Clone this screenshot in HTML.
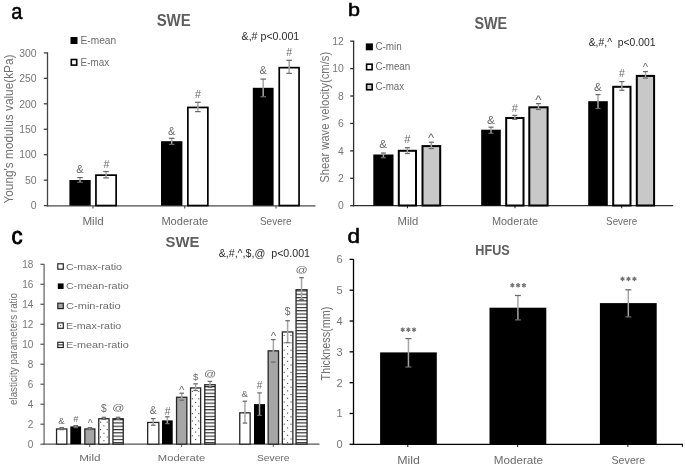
<!DOCTYPE html>
<html><head><meta charset="utf-8"><style>
html,body{margin:0;padding:0;background:#fff;}
body{width:685px;height:465px;overflow:hidden;}
svg{display:block;filter:blur(0.5px);}
text{font-family:"Liberation Sans", sans-serif;}
</style></head><body>
<svg width="685" height="465" viewBox="0 0 685 465" font-family='"Liberation Sans", sans-serif'>
<defs>
<pattern id="stripes" patternUnits="userSpaceOnUse" width="10" height="3.3" x="0" y="0">
<rect width="10" height="3.3" fill="#fff"/>
<rect y="0" width="10" height="1.1" fill="#262626"/>
</pattern>
</defs>
<rect width="685" height="465" fill="#fff"/>
<text x="11.35" y="18.68" font-size="22.82" fill="#000" text-anchor="start" textLength="11.15" lengthAdjust="spacingAndGlyphs" stroke="#000" stroke-width="0.55">a</text>
<text x="156.64" y="25.60" font-size="16" fill="#5e5e5e" font-weight="bold" text-anchor="start" textLength="34.12" lengthAdjust="spacingAndGlyphs">SWE</text>
<text x="241.57" y="40.30" font-size="10.5" fill="#2a2a2a" text-anchor="start" textLength="57.66" lengthAdjust="spacingAndGlyphs">&amp;,# p&lt;0.001</text>
<rect x="70.50" y="37.00" width="7.00" height="7.00" fill="#000"/>
<rect x="71.30" y="59.50" width="5.40" height="5.60" fill="#fff" stroke="#000" stroke-width="1.6"/>
<text x="80.60" y="43.60" font-size="10.0" fill="#6b6b6b" text-anchor="start" textLength="35.50" lengthAdjust="spacingAndGlyphs">E-mean</text>
<text x="80.60" y="65.60" font-size="10.0" fill="#6b6b6b" text-anchor="start" textLength="28.50" lengthAdjust="spacingAndGlyphs">E-max</text>
<line x1="47.50" y1="52.30" x2="47.50" y2="206.40" stroke="#454545" stroke-width="1.3"/>
<line x1="46.90" y1="205.80" x2="315.50" y2="205.80" stroke="#4a4a4a" stroke-width="1.3"/>
<line x1="43.80" y1="205.60" x2="47.50" y2="205.60" stroke="#404040" stroke-width="1.3"/>
<text x="36.62" y="209.30" font-size="10.4" fill="#767676" text-anchor="end">0</text>
<line x1="43.80" y1="180.15" x2="47.50" y2="180.15" stroke="#404040" stroke-width="1.3"/>
<text x="36.62" y="183.85" font-size="10.4" fill="#767676" text-anchor="end">50</text>
<line x1="43.80" y1="154.70" x2="47.50" y2="154.70" stroke="#404040" stroke-width="1.3"/>
<text x="36.62" y="158.40" font-size="10.4" fill="#767676" text-anchor="end">100</text>
<line x1="43.80" y1="129.25" x2="47.50" y2="129.25" stroke="#404040" stroke-width="1.3"/>
<text x="36.62" y="132.95" font-size="10.4" fill="#767676" text-anchor="end">150</text>
<line x1="43.80" y1="103.80" x2="47.50" y2="103.80" stroke="#404040" stroke-width="1.3"/>
<text x="36.62" y="107.50" font-size="10.4" fill="#767676" text-anchor="end">200</text>
<line x1="43.80" y1="78.35" x2="47.50" y2="78.35" stroke="#404040" stroke-width="1.3"/>
<text x="36.62" y="82.05" font-size="10.4" fill="#767676" text-anchor="end">250</text>
<line x1="43.80" y1="52.90" x2="47.50" y2="52.90" stroke="#404040" stroke-width="1.3"/>
<text x="36.62" y="56.60" font-size="10.4" fill="#767676" text-anchor="end">300</text>
<line x1="93.00" y1="205.80" x2="93.00" y2="208.40" stroke="#4a4a4a" stroke-width="1.1"/>
<line x1="184.70" y1="205.80" x2="184.70" y2="208.40" stroke="#4a4a4a" stroke-width="1.1"/>
<line x1="276.00" y1="205.80" x2="276.00" y2="208.40" stroke="#4a4a4a" stroke-width="1.1"/>
<text x="93.10" y="225.00" font-size="10.5" fill="#6b6b6b" text-anchor="middle" textLength="21.25" lengthAdjust="spacingAndGlyphs">Mild</text>
<text x="184.80" y="225.00" font-size="10.5" fill="#6b6b6b" text-anchor="middle" textLength="46.85" lengthAdjust="spacingAndGlyphs">Moderate</text>
<text x="275.80" y="225.00" font-size="10.5" fill="#6b6b6b" text-anchor="middle" textLength="31.85" lengthAdjust="spacingAndGlyphs">Severe</text>
<text transform="translate(12.60,129.00) rotate(-90)" x="0" y="0" font-size="13.5" fill="#727272" text-anchor="middle" textLength="149.00" lengthAdjust="spacingAndGlyphs">Young's modulus value(kPa)</text>
<rect x="69.40" y="180.00" width="21.30" height="25.60" fill="#000"/>
<line x1="80.05" y1="177.60" x2="80.05" y2="182.30" stroke="#a6a6a6" stroke-width="1.5"/>
<line x1="77.25" y1="177.60" x2="82.85" y2="177.60" stroke="#6a6a6a" stroke-width="1.25"/>
<line x1="77.25" y1="182.30" x2="82.85" y2="182.30" stroke="#6a6a6a" stroke-width="1.25"/>
<rect x="95.95" y="175.15" width="20.20" height="30.40" fill="#fff" stroke="#000" stroke-width="1.7"/>
<line x1="106.05" y1="171.50" x2="106.05" y2="177.90" stroke="#a6a6a6" stroke-width="1.5"/>
<line x1="103.25" y1="171.50" x2="108.85" y2="171.50" stroke="#6a6a6a" stroke-width="1.25"/>
<line x1="103.25" y1="177.90" x2="108.85" y2="177.90" stroke="#6a6a6a" stroke-width="1.25"/>
<rect x="161.00" y="141.20" width="21.40" height="64.40" fill="#000"/>
<line x1="171.70" y1="138.30" x2="171.70" y2="144.40" stroke="#a6a6a6" stroke-width="1.5"/>
<line x1="168.90" y1="138.30" x2="174.50" y2="138.30" stroke="#6a6a6a" stroke-width="1.25"/>
<line x1="168.90" y1="144.40" x2="174.50" y2="144.40" stroke="#6a6a6a" stroke-width="1.25"/>
<rect x="187.85" y="107.45" width="20.00" height="98.10" fill="#fff" stroke="#000" stroke-width="1.7"/>
<line x1="197.85" y1="102.30" x2="197.85" y2="111.60" stroke="#a6a6a6" stroke-width="1.5"/>
<line x1="195.05" y1="102.30" x2="200.65" y2="102.30" stroke="#6a6a6a" stroke-width="1.25"/>
<line x1="195.05" y1="111.60" x2="200.65" y2="111.60" stroke="#6a6a6a" stroke-width="1.25"/>
<rect x="252.80" y="87.80" width="20.80" height="117.80" fill="#000"/>
<line x1="263.20" y1="79.10" x2="263.20" y2="96.70" stroke="#a6a6a6" stroke-width="1.5"/>
<line x1="260.40" y1="79.10" x2="266.00" y2="79.10" stroke="#6a6a6a" stroke-width="1.25"/>
<line x1="260.40" y1="96.70" x2="266.00" y2="96.70" stroke="#6a6a6a" stroke-width="1.25"/>
<rect x="279.25" y="67.65" width="19.80" height="137.90" fill="#fff" stroke="#000" stroke-width="1.7"/>
<line x1="289.15" y1="60.30" x2="289.15" y2="73.40" stroke="#a6a6a6" stroke-width="1.5"/>
<line x1="286.35" y1="60.30" x2="291.95" y2="60.30" stroke="#6a6a6a" stroke-width="1.25"/>
<line x1="286.35" y1="73.40" x2="291.95" y2="73.40" stroke="#6a6a6a" stroke-width="1.25"/>
<text x="348.01" y="16.01" font-size="19.06" fill="#000" text-anchor="start" textLength="12.00" lengthAdjust="spacingAndGlyphs" stroke="#000" stroke-width="0.55">b</text>
<text x="474.44" y="28.70" font-size="16" fill="#5e5e5e" font-weight="bold" text-anchor="start" textLength="32.72" lengthAdjust="spacingAndGlyphs">SWE</text>
<text x="588.67" y="46.10" font-size="10.5" fill="#2a2a2a" text-anchor="start" textLength="66.96" lengthAdjust="spacingAndGlyphs">&amp;,#,^  p&lt;0.001</text>
<rect x="365.80" y="43.40" width="7.10" height="6.90" fill="#000"/>
<rect x="366.60" y="64.20" width="5.50" height="5.50" fill="#fff" stroke="#000" stroke-width="1.6"/>
<rect x="366.60" y="84.20" width="5.50" height="5.60" fill="#c8c8c8" stroke="#000" stroke-width="1.6"/>
<text x="375.40" y="49.70" font-size="10.0" fill="#6b6b6b" text-anchor="start" textLength="26.40" lengthAdjust="spacingAndGlyphs">C-min</text>
<text x="375.40" y="70.00" font-size="10.0" fill="#6b6b6b" text-anchor="start" textLength="34.90" lengthAdjust="spacingAndGlyphs">C-mean</text>
<text x="375.40" y="90.10" font-size="10.0" fill="#6b6b6b" text-anchor="start" textLength="28.80" lengthAdjust="spacingAndGlyphs">C-max</text>
<line x1="353.60" y1="40.60" x2="353.60" y2="206.30" stroke="#2e2e2e" stroke-width="1.3"/>
<line x1="353.00" y1="205.70" x2="673.20" y2="205.70" stroke="#2e2e2e" stroke-width="1.3"/>
<line x1="350.20" y1="205.70" x2="353.60" y2="205.70" stroke="#2e2e2e" stroke-width="1.3"/>
<text x="343.72" y="209.40" font-size="10.4" fill="#767676" text-anchor="end">0</text>
<line x1="350.20" y1="178.28" x2="353.60" y2="178.28" stroke="#2e2e2e" stroke-width="1.3"/>
<text x="343.72" y="181.98" font-size="10.4" fill="#767676" text-anchor="end">2</text>
<line x1="350.20" y1="150.86" x2="353.60" y2="150.86" stroke="#2e2e2e" stroke-width="1.3"/>
<text x="343.72" y="154.56" font-size="10.4" fill="#767676" text-anchor="end">4</text>
<line x1="350.20" y1="123.44" x2="353.60" y2="123.44" stroke="#2e2e2e" stroke-width="1.3"/>
<text x="343.72" y="127.14" font-size="10.4" fill="#767676" text-anchor="end">6</text>
<line x1="350.20" y1="96.02" x2="353.60" y2="96.02" stroke="#2e2e2e" stroke-width="1.3"/>
<text x="343.72" y="99.72" font-size="10.4" fill="#767676" text-anchor="end">8</text>
<line x1="350.20" y1="68.60" x2="353.60" y2="68.60" stroke="#2e2e2e" stroke-width="1.3"/>
<text x="343.72" y="72.30" font-size="10.4" fill="#767676" text-anchor="end">10</text>
<line x1="350.20" y1="41.18" x2="353.60" y2="41.18" stroke="#2e2e2e" stroke-width="1.3"/>
<text x="343.72" y="44.88" font-size="10.4" fill="#767676" text-anchor="end">12</text>
<line x1="407.40" y1="205.70" x2="407.40" y2="208.30" stroke="#2e2e2e" stroke-width="1.1"/>
<line x1="515.00" y1="205.70" x2="515.00" y2="208.30" stroke="#2e2e2e" stroke-width="1.1"/>
<line x1="621.70" y1="205.70" x2="621.70" y2="208.30" stroke="#2e2e2e" stroke-width="1.1"/>
<text x="407.90" y="224.60" font-size="10.5" fill="#6b6b6b" text-anchor="middle" textLength="20.75" lengthAdjust="spacingAndGlyphs">Mild</text>
<text x="515.00" y="224.60" font-size="10.5" fill="#6b6b6b" text-anchor="middle" textLength="46.25" lengthAdjust="spacingAndGlyphs">Moderate</text>
<text x="621.70" y="224.60" font-size="10.5" fill="#6b6b6b" text-anchor="middle" textLength="31.25" lengthAdjust="spacingAndGlyphs">Severe</text>
<text transform="translate(329.40,117.30) rotate(-90)" x="0" y="0" font-size="13.2" fill="#727272" text-anchor="middle" textLength="131.00" lengthAdjust="spacingAndGlyphs">Shear wave velocity(cm/s)</text>
<rect x="373.30" y="154.50" width="20.20" height="51.20" fill="#000"/>
<line x1="383.40" y1="153.00" x2="383.40" y2="157.70" stroke="#a6a6a6" stroke-width="1.5"/>
<line x1="380.90" y1="153.00" x2="385.90" y2="153.00" stroke="#6a6a6a" stroke-width="1.25"/>
<line x1="380.90" y1="157.70" x2="385.90" y2="157.70" stroke="#6a6a6a" stroke-width="1.25"/>
<rect x="398.80" y="150.80" width="17.20" height="54.70" fill="#fff" stroke="#000" stroke-width="2.0"/>
<line x1="407.40" y1="147.70" x2="407.40" y2="153.50" stroke="#a6a6a6" stroke-width="1.5"/>
<line x1="404.90" y1="147.70" x2="409.90" y2="147.70" stroke="#6a6a6a" stroke-width="1.25"/>
<line x1="404.90" y1="153.50" x2="409.90" y2="153.50" stroke="#6a6a6a" stroke-width="1.25"/>
<rect x="422.50" y="146.10" width="17.70" height="59.40" fill="#c8c8c8" stroke="#000" stroke-width="2.0"/>
<line x1="431.35" y1="142.20" x2="431.35" y2="148.60" stroke="#a6a6a6" stroke-width="1.5"/>
<line x1="428.85" y1="142.20" x2="433.85" y2="142.20" stroke="#6a6a6a" stroke-width="1.25"/>
<line x1="428.85" y1="148.60" x2="433.85" y2="148.60" stroke="#6a6a6a" stroke-width="1.25"/>
<rect x="481.20" y="129.70" width="19.60" height="76.00" fill="#000"/>
<line x1="491.00" y1="127.20" x2="491.00" y2="133.30" stroke="#a6a6a6" stroke-width="1.5"/>
<line x1="488.50" y1="127.20" x2="493.50" y2="127.20" stroke="#6a6a6a" stroke-width="1.25"/>
<line x1="488.50" y1="133.30" x2="493.50" y2="133.30" stroke="#6a6a6a" stroke-width="1.25"/>
<rect x="506.20" y="118.00" width="17.30" height="87.50" fill="#fff" stroke="#000" stroke-width="2.0"/>
<line x1="514.85" y1="115.40" x2="514.85" y2="119.30" stroke="#a6a6a6" stroke-width="1.5"/>
<line x1="512.35" y1="115.40" x2="517.35" y2="115.40" stroke="#6a6a6a" stroke-width="1.25"/>
<line x1="512.35" y1="119.30" x2="517.35" y2="119.30" stroke="#6a6a6a" stroke-width="1.25"/>
<rect x="529.30" y="107.30" width="18.30" height="98.20" fill="#c8c8c8" stroke="#000" stroke-width="2.0"/>
<line x1="538.45" y1="103.60" x2="538.45" y2="109.50" stroke="#a6a6a6" stroke-width="1.5"/>
<line x1="535.95" y1="103.60" x2="540.95" y2="103.60" stroke="#6a6a6a" stroke-width="1.25"/>
<line x1="535.95" y1="109.50" x2="540.95" y2="109.50" stroke="#6a6a6a" stroke-width="1.25"/>
<rect x="588.20" y="101.20" width="19.60" height="104.50" fill="#000"/>
<line x1="598.00" y1="94.60" x2="598.00" y2="108.50" stroke="#a6a6a6" stroke-width="1.5"/>
<line x1="595.50" y1="94.60" x2="600.50" y2="94.60" stroke="#6a6a6a" stroke-width="1.25"/>
<line x1="595.50" y1="108.50" x2="600.50" y2="108.50" stroke="#6a6a6a" stroke-width="1.25"/>
<rect x="613.20" y="86.80" width="17.30" height="118.70" fill="#fff" stroke="#000" stroke-width="2.0"/>
<line x1="621.85" y1="81.60" x2="621.85" y2="90.30" stroke="#a6a6a6" stroke-width="1.5"/>
<line x1="619.35" y1="81.60" x2="624.35" y2="81.60" stroke="#6a6a6a" stroke-width="1.25"/>
<line x1="619.35" y1="90.30" x2="624.35" y2="90.30" stroke="#6a6a6a" stroke-width="1.25"/>
<rect x="636.80" y="75.90" width="17.30" height="129.60" fill="#c8c8c8" stroke="#000" stroke-width="2.0"/>
<line x1="645.45" y1="71.60" x2="645.45" y2="78.10" stroke="#a6a6a6" stroke-width="1.5"/>
<line x1="642.95" y1="71.60" x2="647.95" y2="71.60" stroke="#6a6a6a" stroke-width="1.25"/>
<line x1="642.95" y1="78.10" x2="647.95" y2="78.10" stroke="#6a6a6a" stroke-width="1.25"/>
<text x="11.56" y="244.17" font-size="23.36" fill="#000" text-anchor="start" textLength="11.02" lengthAdjust="spacingAndGlyphs" stroke="#000" stroke-width="0.9">c</text>
<text x="165.56" y="246.50" font-size="14" fill="#5e5e5e" font-weight="bold" text-anchor="start" textLength="33.78" lengthAdjust="spacingAndGlyphs">SWE</text>
<text x="218.64" y="256.60" font-size="11" fill="#2a2a2a" text-anchor="start" textLength="91.42" lengthAdjust="spacingAndGlyphs">&amp;,#,^,$,@  p&lt;0.001</text>
<rect x="57.80" y="263.80" width="5.50" height="5.40" fill="#fff" stroke="#262626" stroke-width="1.2"/>
<rect x="57.80" y="283.40" width="5.80" height="5.60" fill="#000"/>
<rect x="57.80" y="303.20" width="5.50" height="5.40" fill="#a6a6a6" stroke="#262626" stroke-width="1.2"/>
<rect x="57.80" y="322.90" width="5.50" height="5.40" fill="#fff" stroke="#262626" stroke-width="1.2"/>
<rect x="60.00" y="325.10" width="1.10" height="1.10" fill="#555"/>
<rect x="57.80" y="342.30" width="5.50" height="5.20" fill="#fff" stroke="#262626" stroke-width="1.2"/>
<rect x="58.00" y="344.30" width="5.10" height="1.10" fill="#333"/>
<text x="66.06" y="269.60" font-size="9" fill="#6b6b6b" text-anchor="start" textLength="55.98" lengthAdjust="spacingAndGlyphs">C-max-ratio</text>
<text x="66.06" y="289.20" font-size="9" fill="#6b6b6b" text-anchor="start" textLength="62.78" lengthAdjust="spacingAndGlyphs">C-mean-ratio</text>
<text x="66.06" y="309.00" font-size="9" fill="#6b6b6b" text-anchor="start" textLength="54.58" lengthAdjust="spacingAndGlyphs">C-min-ratio</text>
<text x="66.06" y="328.50" font-size="9" fill="#6b6b6b" text-anchor="start" textLength="55.18" lengthAdjust="spacingAndGlyphs">E-max-ratio</text>
<text x="66.06" y="347.90" font-size="9" fill="#6b6b6b" text-anchor="start" textLength="62.78" lengthAdjust="spacingAndGlyphs">E-mean-ratio</text>
<line x1="44.10" y1="263.90" x2="44.10" y2="444.80" stroke="#7f7f7f" stroke-width="1.5"/>
<line x1="43.50" y1="444.20" x2="319.50" y2="444.20" stroke="#555" stroke-width="1.2"/>
<line x1="40.40" y1="444.20" x2="44.10" y2="444.20" stroke="#555" stroke-width="1.2"/>
<text x="33.30" y="447.70" font-size="10" fill="#767676" text-anchor="end">0</text>
<line x1="40.40" y1="424.21" x2="44.10" y2="424.21" stroke="#555" stroke-width="1.2"/>
<text x="33.30" y="427.71" font-size="10" fill="#767676" text-anchor="end">2</text>
<line x1="40.40" y1="404.22" x2="44.10" y2="404.22" stroke="#555" stroke-width="1.2"/>
<text x="33.30" y="407.72" font-size="10" fill="#767676" text-anchor="end">4</text>
<line x1="40.40" y1="384.23" x2="44.10" y2="384.23" stroke="#555" stroke-width="1.2"/>
<text x="33.30" y="387.73" font-size="10" fill="#767676" text-anchor="end">6</text>
<line x1="40.40" y1="364.24" x2="44.10" y2="364.24" stroke="#555" stroke-width="1.2"/>
<text x="33.30" y="367.74" font-size="10" fill="#767676" text-anchor="end">8</text>
<line x1="40.40" y1="344.25" x2="44.10" y2="344.25" stroke="#555" stroke-width="1.2"/>
<text x="33.30" y="347.75" font-size="10" fill="#767676" text-anchor="end">10</text>
<line x1="40.40" y1="324.26" x2="44.10" y2="324.26" stroke="#555" stroke-width="1.2"/>
<text x="33.30" y="327.76" font-size="10" fill="#767676" text-anchor="end">12</text>
<line x1="40.40" y1="304.27" x2="44.10" y2="304.27" stroke="#555" stroke-width="1.2"/>
<text x="33.30" y="307.77" font-size="10" fill="#767676" text-anchor="end">14</text>
<line x1="40.40" y1="284.28" x2="44.10" y2="284.28" stroke="#555" stroke-width="1.2"/>
<text x="33.30" y="287.78" font-size="10" fill="#767676" text-anchor="end">16</text>
<line x1="40.40" y1="264.29" x2="44.10" y2="264.29" stroke="#555" stroke-width="1.2"/>
<text x="33.30" y="267.79" font-size="10" fill="#767676" text-anchor="end">18</text>
<line x1="89.70" y1="444.20" x2="89.70" y2="446.80" stroke="#555" stroke-width="1"/>
<line x1="181.60" y1="444.20" x2="181.60" y2="446.80" stroke="#555" stroke-width="1"/>
<line x1="273.30" y1="444.20" x2="273.30" y2="446.80" stroke="#555" stroke-width="1"/>
<text x="89.80" y="461.10" font-size="9.5" fill="#6b6b6b" text-anchor="middle" textLength="21.35" lengthAdjust="spacingAndGlyphs">Mild</text>
<text x="181.50" y="461.10" font-size="9.5" fill="#6b6b6b" text-anchor="middle" textLength="47.35" lengthAdjust="spacingAndGlyphs">Moderate</text>
<text x="273.20" y="461.10" font-size="9.5" fill="#6b6b6b" text-anchor="middle" textLength="32.65" lengthAdjust="spacingAndGlyphs">Severe</text>
<text transform="translate(16.60,349.00) rotate(-90)" x="0" y="0" font-size="10.8" fill="#727272" text-anchor="middle" textLength="112.00" lengthAdjust="spacingAndGlyphs">elasticity parameters ratio</text>
<rect x="56.55" y="428.95" width="10.30" height="15.20" fill="#fff" stroke="#262626" stroke-width="1.3"/>
<line x1="61.70" y1="427.60" x2="61.70" y2="429.60" stroke="#a6a6a6" stroke-width="1.5"/>
<line x1="59.45" y1="427.60" x2="63.95" y2="427.60" stroke="#6a6a6a" stroke-width="1.25"/>
<line x1="59.45" y1="429.60" x2="63.95" y2="429.60" stroke="#6a6a6a" stroke-width="1.25"/>
<rect x="70.30" y="426.40" width="10.80" height="17.80" fill="#000"/>
<line x1="75.70" y1="425.60" x2="75.70" y2="427.60" stroke="#a6a6a6" stroke-width="1.5"/>
<line x1="73.45" y1="425.60" x2="77.95" y2="425.60" stroke="#6a6a6a" stroke-width="1.25"/>
<line x1="73.45" y1="427.60" x2="77.95" y2="427.60" stroke="#6a6a6a" stroke-width="1.25"/>
<rect x="84.85" y="428.95" width="10.00" height="15.20" fill="#a6a6a6" stroke="#262626" stroke-width="1.3"/>
<line x1="89.85" y1="427.60" x2="89.85" y2="429.60" stroke="#a6a6a6" stroke-width="1.5"/>
<line x1="87.60" y1="427.60" x2="92.10" y2="427.60" stroke="#6a6a6a" stroke-width="1.25"/>
<line x1="87.60" y1="429.60" x2="92.10" y2="429.60" stroke="#6a6a6a" stroke-width="1.25"/>
<rect x="98.75" y="418.75" width="10.30" height="25.40" fill="#fff" stroke="#262626" stroke-width="1.3"/>
<rect x="100.05" y="421.65" width="1.10" height="1.10" fill="#4a4a4a"/>
<rect x="106.65" y="421.65" width="1.10" height="1.10" fill="#4a4a4a"/>
<rect x="103.35" y="425.35" width="1.10" height="1.10" fill="#4a4a4a"/>
<rect x="100.05" y="429.05" width="1.10" height="1.10" fill="#4a4a4a"/>
<rect x="106.65" y="429.05" width="1.10" height="1.10" fill="#4a4a4a"/>
<rect x="103.35" y="432.75" width="1.10" height="1.10" fill="#4a4a4a"/>
<rect x="100.05" y="436.45" width="1.10" height="1.10" fill="#4a4a4a"/>
<rect x="106.65" y="436.45" width="1.10" height="1.10" fill="#4a4a4a"/>
<rect x="103.35" y="440.15" width="1.10" height="1.10" fill="#4a4a4a"/>
<line x1="103.90" y1="417.30" x2="103.90" y2="419.30" stroke="#a6a6a6" stroke-width="1.5"/>
<line x1="101.65" y1="417.30" x2="106.15" y2="417.30" stroke="#6a6a6a" stroke-width="1.25"/>
<line x1="101.65" y1="419.30" x2="106.15" y2="419.30" stroke="#6a6a6a" stroke-width="1.25"/>
<rect x="112.95" y="418.75" width="10.30" height="25.40" fill="url(#stripes)" stroke="#262626" stroke-width="1.3"/>
<line x1="118.10" y1="417.30" x2="118.10" y2="419.30" stroke="#a6a6a6" stroke-width="1.5"/>
<line x1="115.85" y1="417.30" x2="120.35" y2="417.30" stroke="#6a6a6a" stroke-width="1.25"/>
<line x1="115.85" y1="419.30" x2="120.35" y2="419.30" stroke="#6a6a6a" stroke-width="1.25"/>
<rect x="147.65" y="422.45" width="11.20" height="21.70" fill="#fff" stroke="#262626" stroke-width="1.3"/>
<line x1="153.25" y1="418.60" x2="153.25" y2="425.20" stroke="#a6a6a6" stroke-width="1.5"/>
<line x1="151.00" y1="418.60" x2="155.50" y2="418.60" stroke="#6a6a6a" stroke-width="1.25"/>
<line x1="151.00" y1="425.20" x2="155.50" y2="425.20" stroke="#6a6a6a" stroke-width="1.25"/>
<rect x="162.00" y="420.40" width="10.70" height="23.80" fill="#000"/>
<line x1="167.35" y1="416.80" x2="167.35" y2="423.60" stroke="#a6a6a6" stroke-width="1.5"/>
<line x1="165.10" y1="416.80" x2="169.60" y2="416.80" stroke="#6a6a6a" stroke-width="1.25"/>
<line x1="165.10" y1="423.60" x2="169.60" y2="423.60" stroke="#6a6a6a" stroke-width="1.25"/>
<rect x="176.55" y="397.25" width="10.30" height="46.90" fill="#a6a6a6" stroke="#262626" stroke-width="1.3"/>
<line x1="181.70" y1="393.20" x2="181.70" y2="400.20" stroke="#a6a6a6" stroke-width="1.5"/>
<line x1="179.45" y1="393.20" x2="183.95" y2="393.20" stroke="#6a6a6a" stroke-width="1.25"/>
<line x1="179.45" y1="400.20" x2="183.95" y2="400.20" stroke="#6a6a6a" stroke-width="1.25"/>
<rect x="190.55" y="387.95" width="10.10" height="56.20" fill="#fff" stroke="#262626" stroke-width="1.3"/>
<rect x="191.85" y="390.85" width="1.10" height="1.10" fill="#4a4a4a"/>
<rect x="198.25" y="390.85" width="1.10" height="1.10" fill="#4a4a4a"/>
<rect x="195.05" y="394.55" width="1.10" height="1.10" fill="#4a4a4a"/>
<rect x="191.85" y="398.25" width="1.10" height="1.10" fill="#4a4a4a"/>
<rect x="198.25" y="398.25" width="1.10" height="1.10" fill="#4a4a4a"/>
<rect x="195.05" y="401.95" width="1.10" height="1.10" fill="#4a4a4a"/>
<rect x="191.85" y="405.65" width="1.10" height="1.10" fill="#4a4a4a"/>
<rect x="198.25" y="405.65" width="1.10" height="1.10" fill="#4a4a4a"/>
<rect x="195.05" y="409.35" width="1.10" height="1.10" fill="#4a4a4a"/>
<rect x="191.85" y="413.05" width="1.10" height="1.10" fill="#4a4a4a"/>
<rect x="198.25" y="413.05" width="1.10" height="1.10" fill="#4a4a4a"/>
<rect x="195.05" y="416.75" width="1.10" height="1.10" fill="#4a4a4a"/>
<rect x="191.85" y="420.45" width="1.10" height="1.10" fill="#4a4a4a"/>
<rect x="198.25" y="420.45" width="1.10" height="1.10" fill="#4a4a4a"/>
<rect x="195.05" y="424.15" width="1.10" height="1.10" fill="#4a4a4a"/>
<rect x="191.85" y="427.85" width="1.10" height="1.10" fill="#4a4a4a"/>
<rect x="198.25" y="427.85" width="1.10" height="1.10" fill="#4a4a4a"/>
<rect x="195.05" y="431.55" width="1.10" height="1.10" fill="#4a4a4a"/>
<rect x="191.85" y="435.25" width="1.10" height="1.10" fill="#4a4a4a"/>
<rect x="198.25" y="435.25" width="1.10" height="1.10" fill="#4a4a4a"/>
<rect x="195.05" y="438.95" width="1.10" height="1.10" fill="#4a4a4a"/>
<line x1="195.60" y1="383.80" x2="195.60" y2="390.50" stroke="#a6a6a6" stroke-width="1.5"/>
<line x1="193.35" y1="383.80" x2="197.85" y2="383.80" stroke="#6a6a6a" stroke-width="1.25"/>
<line x1="193.35" y1="390.50" x2="197.85" y2="390.50" stroke="#6a6a6a" stroke-width="1.25"/>
<rect x="204.75" y="384.75" width="10.40" height="59.40" fill="url(#stripes)" stroke="#262626" stroke-width="1.3"/>
<line x1="209.95" y1="381.40" x2="209.95" y2="387.30" stroke="#a6a6a6" stroke-width="1.5"/>
<line x1="207.70" y1="381.40" x2="212.20" y2="381.40" stroke="#6a6a6a" stroke-width="1.25"/>
<line x1="207.70" y1="387.30" x2="212.20" y2="387.30" stroke="#6a6a6a" stroke-width="1.25"/>
<rect x="239.75" y="412.85" width="10.40" height="31.30" fill="#fff" stroke="#262626" stroke-width="1.3"/>
<line x1="244.95" y1="401.20" x2="244.95" y2="423.10" stroke="#a6a6a6" stroke-width="1.5"/>
<line x1="242.70" y1="401.20" x2="247.20" y2="401.20" stroke="#6a6a6a" stroke-width="1.25"/>
<line x1="242.70" y1="423.10" x2="247.20" y2="423.10" stroke="#6a6a6a" stroke-width="1.25"/>
<rect x="254.00" y="404.10" width="11.00" height="40.10" fill="#000"/>
<line x1="259.50" y1="392.90" x2="259.50" y2="415.40" stroke="#a6a6a6" stroke-width="1.5"/>
<line x1="257.25" y1="392.90" x2="261.75" y2="392.90" stroke="#6a6a6a" stroke-width="1.25"/>
<line x1="257.25" y1="415.40" x2="261.75" y2="415.40" stroke="#6a6a6a" stroke-width="1.25"/>
<rect x="268.15" y="350.85" width="10.40" height="93.30" fill="#a6a6a6" stroke="#262626" stroke-width="1.3"/>
<line x1="273.35" y1="339.60" x2="273.35" y2="362.10" stroke="#a6a6a6" stroke-width="1.5"/>
<line x1="271.10" y1="339.60" x2="275.60" y2="339.60" stroke="#6a6a6a" stroke-width="1.25"/>
<line x1="271.10" y1="362.10" x2="275.60" y2="362.10" stroke="#6a6a6a" stroke-width="1.25"/>
<rect x="282.35" y="331.95" width="10.50" height="112.20" fill="#fff" stroke="#262626" stroke-width="1.3"/>
<rect x="283.65" y="334.85" width="1.10" height="1.10" fill="#4a4a4a"/>
<rect x="290.45" y="334.85" width="1.10" height="1.10" fill="#4a4a4a"/>
<rect x="287.05" y="338.55" width="1.10" height="1.10" fill="#4a4a4a"/>
<rect x="283.65" y="342.25" width="1.10" height="1.10" fill="#4a4a4a"/>
<rect x="290.45" y="342.25" width="1.10" height="1.10" fill="#4a4a4a"/>
<rect x="287.05" y="345.95" width="1.10" height="1.10" fill="#4a4a4a"/>
<rect x="283.65" y="349.65" width="1.10" height="1.10" fill="#4a4a4a"/>
<rect x="290.45" y="349.65" width="1.10" height="1.10" fill="#4a4a4a"/>
<rect x="287.05" y="353.35" width="1.10" height="1.10" fill="#4a4a4a"/>
<rect x="283.65" y="357.05" width="1.10" height="1.10" fill="#4a4a4a"/>
<rect x="290.45" y="357.05" width="1.10" height="1.10" fill="#4a4a4a"/>
<rect x="287.05" y="360.75" width="1.10" height="1.10" fill="#4a4a4a"/>
<rect x="283.65" y="364.45" width="1.10" height="1.10" fill="#4a4a4a"/>
<rect x="290.45" y="364.45" width="1.10" height="1.10" fill="#4a4a4a"/>
<rect x="287.05" y="368.15" width="1.10" height="1.10" fill="#4a4a4a"/>
<rect x="283.65" y="371.85" width="1.10" height="1.10" fill="#4a4a4a"/>
<rect x="290.45" y="371.85" width="1.10" height="1.10" fill="#4a4a4a"/>
<rect x="287.05" y="375.55" width="1.10" height="1.10" fill="#4a4a4a"/>
<rect x="283.65" y="379.25" width="1.10" height="1.10" fill="#4a4a4a"/>
<rect x="290.45" y="379.25" width="1.10" height="1.10" fill="#4a4a4a"/>
<rect x="287.05" y="382.95" width="1.10" height="1.10" fill="#4a4a4a"/>
<rect x="283.65" y="386.65" width="1.10" height="1.10" fill="#4a4a4a"/>
<rect x="290.45" y="386.65" width="1.10" height="1.10" fill="#4a4a4a"/>
<rect x="287.05" y="390.35" width="1.10" height="1.10" fill="#4a4a4a"/>
<rect x="283.65" y="394.05" width="1.10" height="1.10" fill="#4a4a4a"/>
<rect x="290.45" y="394.05" width="1.10" height="1.10" fill="#4a4a4a"/>
<rect x="287.05" y="397.75" width="1.10" height="1.10" fill="#4a4a4a"/>
<rect x="283.65" y="401.45" width="1.10" height="1.10" fill="#4a4a4a"/>
<rect x="290.45" y="401.45" width="1.10" height="1.10" fill="#4a4a4a"/>
<rect x="287.05" y="405.15" width="1.10" height="1.10" fill="#4a4a4a"/>
<rect x="283.65" y="408.85" width="1.10" height="1.10" fill="#4a4a4a"/>
<rect x="290.45" y="408.85" width="1.10" height="1.10" fill="#4a4a4a"/>
<rect x="287.05" y="412.55" width="1.10" height="1.10" fill="#4a4a4a"/>
<rect x="283.65" y="416.25" width="1.10" height="1.10" fill="#4a4a4a"/>
<rect x="290.45" y="416.25" width="1.10" height="1.10" fill="#4a4a4a"/>
<rect x="287.05" y="419.95" width="1.10" height="1.10" fill="#4a4a4a"/>
<rect x="283.65" y="423.65" width="1.10" height="1.10" fill="#4a4a4a"/>
<rect x="290.45" y="423.65" width="1.10" height="1.10" fill="#4a4a4a"/>
<rect x="287.05" y="427.35" width="1.10" height="1.10" fill="#4a4a4a"/>
<rect x="283.65" y="431.05" width="1.10" height="1.10" fill="#4a4a4a"/>
<rect x="290.45" y="431.05" width="1.10" height="1.10" fill="#4a4a4a"/>
<rect x="287.05" y="434.75" width="1.10" height="1.10" fill="#4a4a4a"/>
<rect x="283.65" y="438.45" width="1.10" height="1.10" fill="#4a4a4a"/>
<rect x="290.45" y="438.45" width="1.10" height="1.10" fill="#4a4a4a"/>
<rect x="287.05" y="442.15" width="1.10" height="1.10" fill="#4a4a4a"/>
<line x1="287.60" y1="320.70" x2="287.60" y2="342.70" stroke="#a6a6a6" stroke-width="1.5"/>
<line x1="285.35" y1="320.70" x2="289.85" y2="320.70" stroke="#6a6a6a" stroke-width="1.25"/>
<line x1="285.35" y1="342.70" x2="289.85" y2="342.70" stroke="#6a6a6a" stroke-width="1.25"/>
<rect x="296.05" y="289.75" width="11.00" height="154.40" fill="url(#stripes)" stroke="#262626" stroke-width="1.3"/>
<line x1="301.55" y1="277.70" x2="301.55" y2="299.70" stroke="#a6a6a6" stroke-width="1.5"/>
<line x1="299.30" y1="277.70" x2="303.80" y2="277.70" stroke="#6a6a6a" stroke-width="1.25"/>
<line x1="299.30" y1="299.70" x2="303.80" y2="299.70" stroke="#6a6a6a" stroke-width="1.25"/>
<text x="76.23" y="173.39" font-size="11.12" fill="#6b6b6b" text-anchor="start">&amp;</text>
<text x="103.39" y="168.00" font-size="10.67" fill="#6b6b6b" text-anchor="start">#</text>
<text x="167.93" y="134.79" font-size="10.97" fill="#6b6b6b" text-anchor="start">&amp;</text>
<text x="194.89" y="98.30" font-size="10.67" fill="#6b6b6b" text-anchor="start">#</text>
<text x="259.48" y="74.29" font-size="10.83" fill="#6b6b6b" text-anchor="start">&amp;</text>
<text x="286.23" y="56.40" font-size="10.53" fill="#6b6b6b" text-anchor="start">#</text>
<text x="379.19" y="148.49" font-size="11.69" fill="#6b6b6b" text-anchor="start">&amp;</text>
<text x="404.21" y="143.40" font-size="11.11" fill="#6b6b6b" text-anchor="start">#</text>
<text x="428.08" y="141.80" font-size="13.08" fill="#6b6b6b" text-anchor="start">^</text>
<text x="486.94" y="123.68" font-size="11.83" fill="#6b6b6b" text-anchor="start">&amp;</text>
<text x="511.80" y="112.00" font-size="10.96" fill="#6b6b6b" text-anchor="start">#</text>
<text x="535.32" y="104.19" font-size="13.36" fill="#6b6b6b" text-anchor="start">^</text>
<text x="594.04" y="90.79" font-size="11.54" fill="#6b6b6b" text-anchor="start">&amp;</text>
<text x="618.97" y="76.90" font-size="10.38" fill="#6b6b6b" text-anchor="start">#</text>
<text x="642.77" y="70.55" font-size="11.41" fill="#6b6b6b" text-anchor="start">^</text>
<text x="58.37" y="424.11" font-size="9.41" fill="#6b6b6b" text-anchor="start">&amp;</text>
<text x="73.16" y="422.00" font-size="9.5" fill="#6b6b6b" text-anchor="start">#</text>
<text x="87.63" y="426.98" font-size="10.3" fill="#6b6b6b" text-anchor="start">^</text>
<text x="101.06" y="411.80" font-size="10.13" fill="#6b6b6b" text-anchor="start">$</text>
<text x="112.36" y="410.57" font-size="8.92" fill="#6b6b6b" text-anchor="start" textLength="12.18" lengthAdjust="spacingAndGlyphs">@</text>
<text x="149.73" y="414.40" font-size="10.4" fill="#6b6b6b" text-anchor="start">&amp;</text>
<text x="164.72" y="414.70" font-size="10.38" fill="#6b6b6b" text-anchor="start">#</text>
<text x="179.02" y="393.75" font-size="11.41" fill="#6b6b6b" text-anchor="start">^</text>
<text x="192.91" y="380.22" font-size="9.76" fill="#6b6b6b" text-anchor="start">$</text>
<text x="203.91" y="377.04" font-size="9.85" fill="#6b6b6b" text-anchor="start" textLength="12.18" lengthAdjust="spacingAndGlyphs">@</text>
<text x="241.62" y="396.91" font-size="9.69" fill="#6b6b6b" text-anchor="start">&amp;</text>
<text x="256.70" y="389.20" font-size="10.09" fill="#6b6b6b" text-anchor="start">#</text>
<text x="270.67" y="339.85" font-size="11.41" fill="#6b6b6b" text-anchor="start">^</text>
<text x="284.71" y="314.80" font-size="10.13" fill="#6b6b6b" text-anchor="start">$</text>
<text x="295.51" y="273.12" font-size="9.27" fill="#6b6b6b" text-anchor="start" textLength="12.18" lengthAdjust="spacingAndGlyphs">@</text>
<text x="347.56" y="242.90" font-size="20.02" fill="#000" text-anchor="start" textLength="12.49" lengthAdjust="spacingAndGlyphs" stroke="#000" stroke-width="0.55">d</text>
<text x="475.36" y="254.60" font-size="14" fill="#5e5e5e" font-weight="bold" text-anchor="start" textLength="34.38" lengthAdjust="spacingAndGlyphs">HFUS</text>
<line x1="353.50" y1="259.00" x2="353.50" y2="444.90" stroke="#000" stroke-width="1.3"/>
<line x1="352.90" y1="444.30" x2="683.00" y2="444.30" stroke="#000" stroke-width="1.3"/>
<line x1="349.60" y1="444.30" x2="353.50" y2="444.30" stroke="#000" stroke-width="1.3"/>
<text x="342.55" y="448.20" font-size="11" fill="#767676" text-anchor="end">0</text>
<line x1="349.60" y1="413.48" x2="353.50" y2="413.48" stroke="#000" stroke-width="1.3"/>
<text x="342.55" y="417.38" font-size="11" fill="#767676" text-anchor="end">1</text>
<line x1="349.60" y1="382.66" x2="353.50" y2="382.66" stroke="#000" stroke-width="1.3"/>
<text x="342.55" y="386.56" font-size="11" fill="#767676" text-anchor="end">2</text>
<line x1="349.60" y1="351.84" x2="353.50" y2="351.84" stroke="#000" stroke-width="1.3"/>
<text x="342.55" y="355.74" font-size="11" fill="#767676" text-anchor="end">3</text>
<line x1="349.60" y1="321.02" x2="353.50" y2="321.02" stroke="#000" stroke-width="1.3"/>
<text x="342.55" y="324.92" font-size="11" fill="#767676" text-anchor="end">4</text>
<line x1="349.60" y1="290.20" x2="353.50" y2="290.20" stroke="#000" stroke-width="1.3"/>
<text x="342.55" y="294.10" font-size="11" fill="#767676" text-anchor="end">5</text>
<line x1="349.60" y1="259.38" x2="353.50" y2="259.38" stroke="#000" stroke-width="1.3"/>
<text x="342.55" y="263.28" font-size="11" fill="#767676" text-anchor="end">6</text>
<line x1="407.80" y1="444.30" x2="407.80" y2="446.90" stroke="#000" stroke-width="1"/>
<line x1="517.70" y1="444.30" x2="517.70" y2="446.90" stroke="#000" stroke-width="1"/>
<line x1="627.90" y1="444.30" x2="627.90" y2="446.90" stroke="#000" stroke-width="1"/>
<line x1="682.40" y1="444.30" x2="682.40" y2="446.90" stroke="#000" stroke-width="1"/>
<text x="408.60" y="463.80" font-size="11" fill="#6b6b6b" text-anchor="middle" textLength="22.80" lengthAdjust="spacingAndGlyphs">Mild</text>
<text x="518.40" y="463.80" font-size="11" fill="#6b6b6b" text-anchor="middle" textLength="49.30" lengthAdjust="spacingAndGlyphs">Moderate</text>
<text x="628.40" y="463.80" font-size="11" fill="#6b6b6b" text-anchor="middle" textLength="33.80" lengthAdjust="spacingAndGlyphs">Severe</text>
<text transform="translate(329.80,343.60) rotate(-90)" x="0" y="0" font-size="12" fill="#727272" text-anchor="middle" textLength="73.70" lengthAdjust="spacingAndGlyphs">Thickness(mm)</text>
<rect x="380.10" y="352.40" width="56.70" height="91.90" fill="#000"/>
<line x1="408.45" y1="338.60" x2="408.45" y2="367.00" stroke="#a6a6a6" stroke-width="1.5"/>
<line x1="405.45" y1="338.60" x2="411.45" y2="338.60" stroke="#6a6a6a" stroke-width="1.25"/>
<line x1="405.45" y1="367.00" x2="411.45" y2="367.00" stroke="#6a6a6a" stroke-width="1.25"/>
<rect x="489.50" y="307.70" width="56.80" height="136.60" fill="#000"/>
<line x1="517.90" y1="295.50" x2="517.90" y2="319.90" stroke="#a6a6a6" stroke-width="1.5"/>
<line x1="514.90" y1="295.50" x2="520.90" y2="295.50" stroke="#6a6a6a" stroke-width="1.25"/>
<line x1="514.90" y1="319.90" x2="520.90" y2="319.90" stroke="#6a6a6a" stroke-width="1.25"/>
<rect x="599.90" y="303.10" width="56.80" height="141.20" fill="#000"/>
<line x1="628.30" y1="289.80" x2="628.30" y2="316.90" stroke="#a6a6a6" stroke-width="1.5"/>
<line x1="625.30" y1="289.80" x2="631.30" y2="289.80" stroke="#6a6a6a" stroke-width="1.25"/>
<line x1="625.30" y1="316.90" x2="631.30" y2="316.90" stroke="#6a6a6a" stroke-width="1.25"/>
<line x1="402.70" y1="327.40" x2="402.70" y2="331.90" stroke="#707070" stroke-width="1.25"/>
<line x1="400.75" y1="328.53" x2="404.65" y2="330.78" stroke="#707070" stroke-width="1.25"/>
<line x1="404.65" y1="328.53" x2="400.75" y2="330.78" stroke="#707070" stroke-width="1.25"/>
<line x1="408.35" y1="327.40" x2="408.35" y2="331.90" stroke="#707070" stroke-width="1.25"/>
<line x1="406.40" y1="328.53" x2="410.30" y2="330.78" stroke="#707070" stroke-width="1.25"/>
<line x1="410.30" y1="328.53" x2="406.40" y2="330.78" stroke="#707070" stroke-width="1.25"/>
<line x1="414.00" y1="327.40" x2="414.00" y2="331.90" stroke="#707070" stroke-width="1.25"/>
<line x1="412.05" y1="328.53" x2="415.95" y2="330.78" stroke="#707070" stroke-width="1.25"/>
<line x1="415.95" y1="328.53" x2="412.05" y2="330.78" stroke="#707070" stroke-width="1.25"/>
<line x1="512.30" y1="283.10" x2="512.30" y2="287.60" stroke="#707070" stroke-width="1.25"/>
<line x1="510.35" y1="284.22" x2="514.25" y2="286.47" stroke="#707070" stroke-width="1.25"/>
<line x1="514.25" y1="284.22" x2="510.35" y2="286.47" stroke="#707070" stroke-width="1.25"/>
<line x1="518.10" y1="283.10" x2="518.10" y2="287.60" stroke="#707070" stroke-width="1.25"/>
<line x1="516.15" y1="284.22" x2="520.05" y2="286.47" stroke="#707070" stroke-width="1.25"/>
<line x1="520.05" y1="284.22" x2="516.15" y2="286.47" stroke="#707070" stroke-width="1.25"/>
<line x1="523.90" y1="283.10" x2="523.90" y2="287.60" stroke="#707070" stroke-width="1.25"/>
<line x1="521.95" y1="284.22" x2="525.85" y2="286.47" stroke="#707070" stroke-width="1.25"/>
<line x1="525.85" y1="284.22" x2="521.95" y2="286.47" stroke="#707070" stroke-width="1.25"/>
<line x1="622.50" y1="276.70" x2="622.50" y2="281.20" stroke="#707070" stroke-width="1.25"/>
<line x1="620.55" y1="277.82" x2="624.45" y2="280.07" stroke="#707070" stroke-width="1.25"/>
<line x1="624.45" y1="277.82" x2="620.55" y2="280.07" stroke="#707070" stroke-width="1.25"/>
<line x1="628.45" y1="276.70" x2="628.45" y2="281.20" stroke="#707070" stroke-width="1.25"/>
<line x1="626.50" y1="277.82" x2="630.40" y2="280.07" stroke="#707070" stroke-width="1.25"/>
<line x1="630.40" y1="277.82" x2="626.50" y2="280.07" stroke="#707070" stroke-width="1.25"/>
<line x1="634.40" y1="276.70" x2="634.40" y2="281.20" stroke="#707070" stroke-width="1.25"/>
<line x1="632.45" y1="277.82" x2="636.35" y2="280.07" stroke="#707070" stroke-width="1.25"/>
<line x1="636.35" y1="277.82" x2="632.45" y2="280.07" stroke="#707070" stroke-width="1.25"/>
</svg>
</body></html>
